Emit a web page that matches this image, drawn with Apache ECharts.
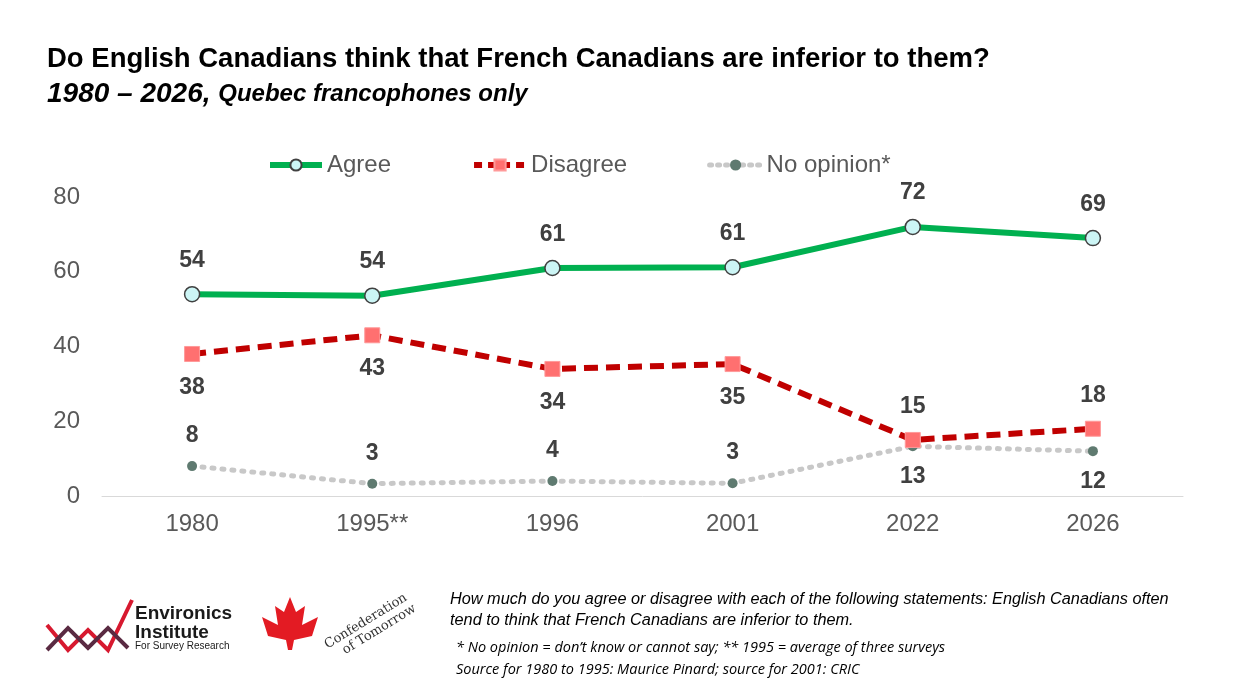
<!DOCTYPE html>
<html><head><meta charset="utf-8">
<script src="https://cdn.jsdelivr.net/npm/echarts@6/dist/echarts.min.js"></script>
<style>html,body{margin:0;background:#fff}#c{width:1247px;height:694px}</style>
</head><body><div id="c"></div>
<script>
var years = ['1980', '1995**', '1996', '2001', '2022', '2026'];
var agree = [54, 53.6, 61, 61.2, 72, 69];
var disagree = [38, 43, 34, 35.3, 15, 18];
var noOpinion = [8, 3.3, 4, 3.4, 13.3, 12];
var agreeLabels = ['54', '54', '61', '61', '72', '69'];
var disagreeLabels = ['38', '43', '34', '35', '15', '18'];
var noOpinionLabels = ['8', '3', '4', '3', '13', '12'];
var disagreeBelow = [true, true, true, true, false, false];

var chart = echarts.init(document.getElementById('c'));
var lbl = {show: true, fontFamily: 'Arial', fontSize: 23, fontWeight: 'bold', color: '#404040', distance: 14};

function pts(vals, labels, below, base) {
  return vals.map(function (v, i) {
    var pos = below ? (below[i] ? 'bottom' : 'top') : base;
    return {value: v, label: {position: pos, formatter: labels[i]}};
  });
}

chart.setOption({
  animation: false,
  title: [
    {text: 'Do English Canadians think that French Canadians are inferior to them?', left: 42, top: 40,
     textStyle: {fontFamily: 'Arial', fontSize: 27.5, fontWeight: 'bold', color: '#000'}},
    {text: '{a|1980 – 2026, }{b|Quebec francophones only}', left: 42, top: 75,
     textStyle: {rich: {a: {fontFamily: 'Arial', fontSize: 28, fontWeight: 'bold', fontStyle: 'italic', color: '#000'},
                        b: {fontFamily: 'Arial', fontSize: 24, fontWeight: 'bold', fontStyle: 'italic', color: '#000'}}}}
  ],
  legend: {top: 148, left: 262, itemGap: 80, itemWidth: 52, itemHeight: 14,
    textStyle: {fontFamily: 'Arial', fontSize: 24, color: '#595959'},
    data: [
      {name: 'Agree', lineStyle: {width: 6}},
      {name: 'Disagree', lineStyle: {width: 6, type: [8, 6]}},
      {name: 'No opinion*', lineStyle: {width: 5, type: [2, 6]}}
    ]},
  grid: {left: 102, right: 64, top: 197, bottom: 198},
  xAxis: {type: 'category', data: years, boundaryGap: true,
    axisLine: {lineStyle: {color: '#d9d9d9'}}, axisTick: {show: false},
    axisLabel: {fontFamily: 'Arial', fontSize: 24, color: '#595959', margin: 16}},
  yAxis: {type: 'value', min: 0, max: 80, interval: 20, splitLine: {show: false},
    axisLabel: {fontFamily: 'Arial', fontSize: 24, color: '#595959', margin: 22}},
  series: [
    {name: 'Agree', type: 'line', data: pts(agree, agreeLabels, null, 'top'), symbol: 'circle', symbolSize: 15,
     lineStyle: {color: '#00b050', width: 6}, itemStyle: {color: '#ccf5f5', borderColor: '#404040', borderWidth: 1.5},
     label: lbl, z: 3},
    {name: 'Disagree', type: 'line', data: pts(disagree, disagreeLabels, disagreeBelow), symbol: 'rect', symbolSize: 15,
     lineStyle: {color: '#c00000', width: 6, type: [14, 8]}, itemStyle: {color: '#ff7070', borderColor: '#ff9a9a', borderWidth: 1},
     label: lbl, z: 3},
    {name: 'No opinion*', type: 'line', data: pts(noOpinion, noOpinionLabels, disagreeBelow.map(function (b) { return !b; })),
     symbol: 'circle', symbolSize: 10, lineStyle: {color: '#c8c8c8', width: 5, type: [2, 8], cap: 'round'},
     itemStyle: {color: '#5f7a70'}, label: lbl, z: 2}
  ],
  graphic: [
    {type: 'text', left: 450, top: 589, style: {text: 'How much do you agree or disagree with each of the following statements: English Canadians often\ntend to think that French Canadians are inferior to them.',
      font: 'italic 16.3px Arial', fill: '#000', lineHeight: 21}},
    {type: 'text', left: 456, top: 637, style: {text: '* No opinion = don’t know or cannot say; ** 1995 = average of three surveys\nSource for 1980 to 1995: Maurice Pinard; source for 2001: CRIC',
      font: 'italic 14.5px "Open Sans"', fill: '#000', lineHeight: 22}},
    {type: 'polyline', shape: {points: [[47, 625], [68, 650], [88, 630], [108, 650], [132, 600]]}, style: {stroke: '#d7192f', lineWidth: 4, fill: null}},
    {type: 'polyline', shape: {points: [[47, 650], [68, 628], [88, 648], [108, 628], [128, 648]]}, style: {stroke: '#5a2a42', lineWidth: 4, fill: null}},
    {type: 'text', left: 135, top: 604, style: {text: 'Environics\nInstitute', font: 'bold 19px Arial', fill: '#1a1a1a', lineHeight: 19}},
    {type: 'text', left: 135, top: 641, style: {text: 'For Survey Research', font: '10px Arial', fill: '#1a1a1a'}},
    {type: 'polygon', shape: {points: [[290, 597], [296, 612], [305, 606], [302, 625], [318, 617], [312, 636], [294, 640], [292, 650], [288, 650], [286, 640], [268, 636], [262, 617], [278, 625], [275, 606], [284, 612]]}, style: {fill: '#e31b23'}},
    {type: 'text', x: 322, y: 640, rotation: 0.55, style: {text: 'Confederation\n   of Tomorrow', font: '13px "DejaVu Serif"', fill: '#333', lineHeight: 14}}
  ]
});
</script></body></html>
